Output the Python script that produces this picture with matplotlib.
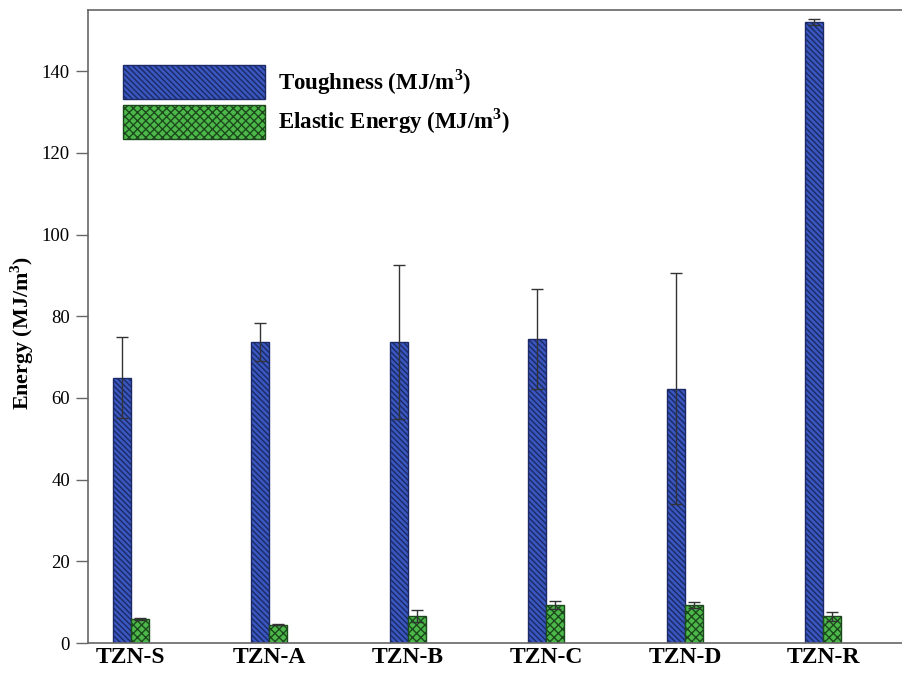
import numpy as np
import matplotlib.pyplot as plt

# Toughness and elastic energy per sample (MJ/m^3), mean and std
samples = ["TZN-S", "TZN-A", "TZN-B", "TZN-C", "TZN-D", "TZN-R"]
toughness = [65.0, 73.7, 73.7, 74.5, 62.3, 152.0]
toughness_err = [10.0, 4.6, 18.8, 12.2, 28.2, 0.7]
elastic = [5.8, 4.5, 6.6, 9.3, 9.3, 6.5]
elastic_err = [0.2, 0.2, 1.5, 1.0, 0.8, 1.2]

plt.rcParams['font.family'] = ['Liberation Serif', 'DejaVu Serif']
plt.rcParams['hatch.linewidth'] = 1.0

fig = plt.figure(figsize=(9.03, 6.74), dpi=100)
ax = fig.add_axes([88 / 903, 31 / 674, 831 / 903, 633 / 674])

x = np.arange(len(samples))
w = 0.13
err_kw = dict(ecolor='#333333', elinewidth=1.0, capsize=4, capthick=1.0)

ax.bar(x - w / 2, toughness, w, yerr=toughness_err, color='#3a57bf',
       edgecolor='#1b2a66', linewidth=1.0, hatch='\\\\\\\\\\\\',
       error_kw=err_kw, label='Toughness (MJ/m$^\\mathregular{3}$)')
ax.bar(x + w / 2, elastic, w, yerr=elastic_err, color='#4cb84a',
       edgecolor='#1d4a1d', linewidth=1.0, hatch='xxxx',
       error_kw=err_kw, label='Elastic Energy (MJ/m$^\\mathregular{3}$)')

ax.set_xlim(-0.31, len(samples) - 0.31)
ax.set_ylim(0, 155)
ax.set_yticks(np.arange(0, 141, 20))
ax.set_xticks(x)
ax.set_xticklabels(samples, fontsize=17, fontweight='bold')
ax.tick_params(axis='x', length=0, pad=3)
ax.tick_params(axis='y', labelsize=13.5, length=9, width=1, color='#666666',
               pad=4)
ax.set_ylabel('Energy (MJ/m$^\\mathregular{3}$)', fontsize=15.8,
              fontweight='bold', va='center')
ax.yaxis.set_label_coords(-66 / 831, 0.49)

for side in ['left', 'bottom', 'top']:
    ax.spines[side].set_color('#666666')
    ax.spines[side].set_linewidth(1.2)
ax.spines['right'].set_visible(False)

ax.legend(loc='upper left', bbox_to_anchor=(123 / 903, 1 - 65 / 674),
          bbox_transform=fig.transFigure, frameon=False, borderpad=0,
          borderaxespad=0, handlelength=6.2, handleheight=1.9,
          labelspacing=0.25, handletextpad=0.57,
          prop={'size': 16.5, 'weight': 'bold'})

fig.savefig('out.png', dpi=100)
